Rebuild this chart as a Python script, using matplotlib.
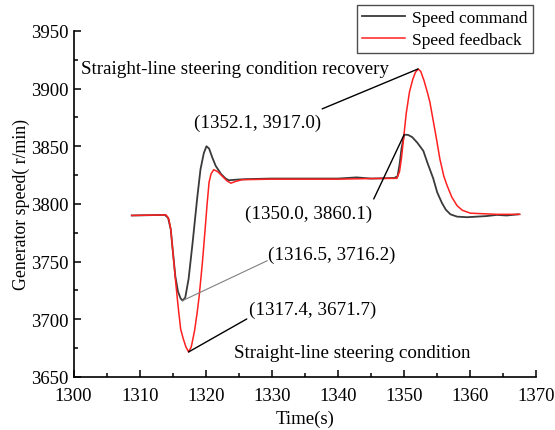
import matplotlib
matplotlib.use("Agg")
import matplotlib.pyplot as plt
from matplotlib.ticker import MultipleLocator

plt.rcParams['font.family'] = ['Liberation Serif', 'DejaVu Serif']

# speed command (black)
t_cmd = [1308.8, 1313.8, 1314.3, 1314.7, 1315.0, 1315.4, 1315.8, 1316.2, 1316.5,
         1316.9, 1317.4, 1318.0, 1318.7, 1319.2, 1319.7, 1320.1, 1320.5, 1321.0,
         1321.5, 1322.3, 1323.0, 1323.5, 1324.5, 1326.0, 1330.0, 1335.0, 1340.0,
         1342.8, 1345.0, 1348.5, 1349.0, 1349.3, 1349.6, 1350.0, 1350.6, 1351.2,
         1352.0, 1352.9, 1353.5, 1354.4, 1355.0, 1355.7, 1356.3, 1357.0, 1358.0,
         1359.5, 1361.0, 1362.5, 1364.0, 1365.5, 1367.3]
v_cmd = [3790.0, 3790.5, 3788.0, 3778.0, 3760.0, 3737.0, 3724.0, 3718.0, 3716.2,
         3719.0, 3735.0, 3766.0, 3805.0, 3830.0, 3844.0, 3850.0, 3848.0, 3840.0,
         3833.0, 3826.0, 3822.0, 3820.5, 3821.0, 3821.5, 3822.0, 3822.0, 3822.0,
         3823.0, 3822.0, 3822.5, 3824.0, 3834.0, 3848.0, 3860.1, 3859.8, 3858.0,
         3853.0, 3846.0, 3836.0, 3822.0, 3810.0, 3801.0, 3795.0, 3791.0, 3789.0,
         3788.5, 3789.0, 3789.5, 3790.5, 3790.0, 3791.0]

# speed feedback (red)
t_fb = [1308.8, 1314.0, 1314.4, 1314.7, 1315.0, 1315.4, 1315.8, 1316.2, 1316.6,
        1317.0, 1317.4, 1317.8, 1318.3, 1318.7, 1319.0, 1319.5, 1319.9, 1320.2,
        1320.5, 1320.8, 1321.2, 1321.8, 1322.5, 1323.2, 1323.8, 1324.5, 1325.5,
        1330.0, 1335.0, 1340.0, 1345.0, 1348.9, 1349.3, 1349.6, 1349.9, 1350.3,
        1350.8, 1351.3, 1351.7, 1352.1, 1352.5, 1353.0, 1353.5, 1353.9, 1354.4,
        1354.9, 1355.4, 1356.0, 1356.5, 1357.2, 1358.0, 1358.8, 1360.0, 1362.0,
        1364.0, 1366.0, 1367.5]
v_fb = [3790.0, 3790.5, 3787.0, 3778.0, 3760.0, 3735.0, 3712.0, 3691.5, 3683.0,
        3676.0, 3671.7, 3676.0, 3690.0, 3706.0, 3720.0, 3750.0, 3778.0, 3800.0,
        3819.0, 3826.0, 3829.7, 3828.0, 3824.0, 3820.0, 3818.0, 3819.5, 3821.0,
        3821.5, 3821.5, 3821.5, 3822.0, 3822.2, 3828.0, 3840.0, 3856.0, 3878.0,
        3897.0, 3908.0, 3914.0, 3917.0, 3915.0, 3907.0, 3897.0, 3888.0, 3872.0,
        3856.0, 3839.0, 3824.0, 3815.8, 3806.0, 3798.5, 3794.5, 3792.0, 3791.5,
        3791.0, 3791.0, 3791.0]

fig = plt.figure(figsize=(5.55, 4.31), dpi=100)
ax = fig.add_axes([0.1325, 0.123, 0.834, 0.803])

ax.plot(t_cmd, v_cmd, color='#3a3a3a', lw=1.3, label='Speed command')
ax.plot(t_fb, v_fb, color='#ff2020', lw=1.1, label='Speed feedback')

ax.set_xlim(1300, 1370)
ax.set_ylim(3650, 3950)
ax.xaxis.set_major_locator(MultipleLocator(10))
ax.xaxis.set_minor_locator(MultipleLocator(5))
ax.yaxis.set_major_locator(MultipleLocator(50))
ax.yaxis.set_minor_locator(MultipleLocator(25))
ax.tick_params(which='both', direction='in', labelsize=13.5, width=1.1)
ax.tick_params(which='major', length=5)
ax.tick_params(which='minor', length=3)
ax.tick_params(axis='x', pad=7)
ax.spines['top'].set_visible(False)
ax.spines['right'].set_visible(False)
for s in ('left', 'bottom'):
    ax.spines[s].set_linewidth(1.2)

ax.set_xlabel('Time(s)', fontsize=13.5, labelpad=4)
ax.set_ylabel('Generator speed( r/min)', fontsize=12.8, labelpad=1)

fs = 13.7
# annotations for the peaks and dips
ax.annotate('', xy=(1352.1, 3917.0), xytext=(1337.6, 3882.4),
            arrowprops=dict(arrowstyle='-', color='black', lw=1.0, shrinkA=0, shrinkB=0))
ax.text(1327.8, 3871, '(1352.1, 3917.0)', fontsize=fs, ha='center', va='center')
ax.text(1301.1, 3917, 'Straight-line steering condition recovery', fontsize=fs,
        ha='left', va='center')

ax.annotate('', xy=(1350.0, 3860.1), xytext=(1345.4, 3804.3),
            arrowprops=dict(arrowstyle='-', color='black', lw=1.0, shrinkA=0, shrinkB=0))
ax.text(1335.6, 3792.2, '(1350.0, 3860.1)', fontsize=fs, ha='center', va='center')

ax.annotate('', xy=(1316.5, 3716.2), xytext=(1329.3, 3750.8),
            arrowprops=dict(arrowstyle='-', color='0.5', lw=0.8, shrinkA=0, shrinkB=0))
ax.text(1329.4, 3756.6, '(1316.5, 3716.2)', fontsize=fs, ha='left', va='center')

ax.annotate('', xy=(1317.4, 3671.7), xytext=(1326.2, 3700.3),
            arrowprops=dict(arrowstyle='-', color='black', lw=1.0, shrinkA=0, shrinkB=0))
ax.text(1326.5, 3708.9, '(1317.4, 3671.7)', fontsize=fs, ha='left', va='center')
ax.text(1324.2, 3670.8, 'Straight-line steering condition', fontsize=fs,
        ha='left', va='center')

leg = ax.legend(loc='upper right', bbox_to_anchor=(533 / 555, 1 - 6 / 431),
                bbox_transform=fig.transFigure, borderaxespad=0, fancybox=False,
                edgecolor='0.3', framealpha=1, fontsize=12.5, borderpad=0.3,
                handlelength=2.5, handletextpad=0.4, labelspacing=0.3)
leg.get_frame().set_linewidth(1.0)

fig.savefig('out.png', dpi=100)
